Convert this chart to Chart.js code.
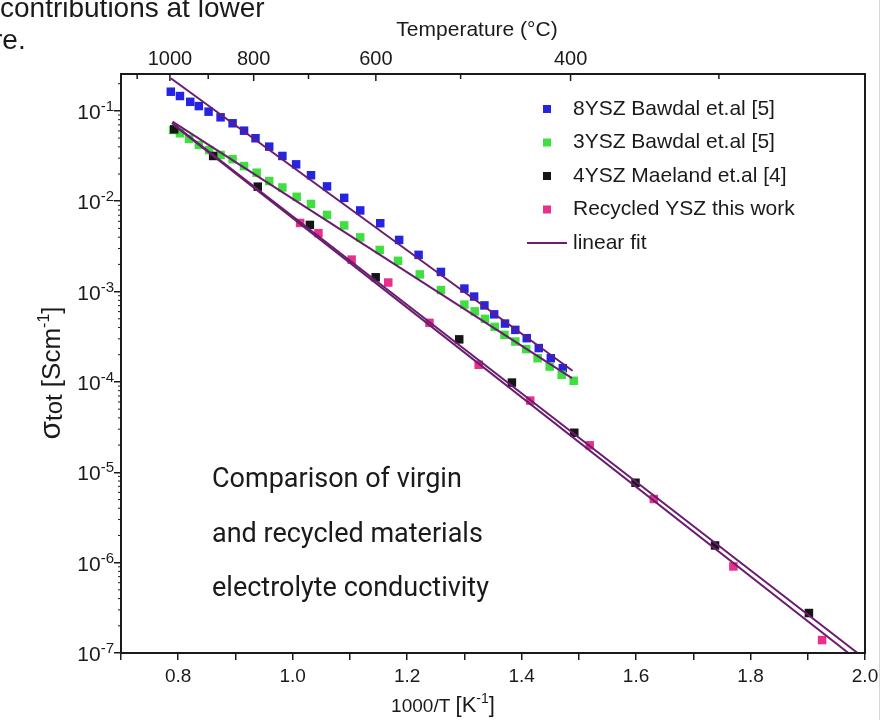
<!DOCTYPE html>
<html>
<head>
<meta charset="utf-8">
<script src="https://cdn.jsdelivr.net/npm/chart.js@4.4.1/dist/chart.umd.min.js"></script>
<style>
html, body { margin: 0; padding: 0; background: #fff; }
#wrap { position: relative; width: 884px; height: 720px; overflow: hidden; }
#edge { position: absolute; left: 879px; top: 0; width: 1px; height: 720px; background: #d6d6d6; }
</style>
</head>
<body>
<div id="wrap">
  <canvas id="c" width="884" height="720"></canvas>
  <div id="edge"></div>
</div>
<script>
// 1000/T [1/K] and total conductivity [S/cm]
var ysz8X = [0.787, 0.803, 0.821, 0.836, 0.853, 0.874, 0.895, 0.915, 0.935, 0.959, 0.982, 1.006, 1.032, 1.060, 1.090,
             1.118, 1.153, 1.186, 1.220, 1.259, 1.300, 1.317, 1.335, 1.352, 1.371, 1.389, 1.409, 1.430, 1.451, 1.472];
var ysz8Y = [0.163, 0.146, 0.126, 0.113, 0.098, 0.0849, 0.0729, 0.0604, 0.0498, 0.0402, 0.0317, 0.0256, 0.0194, 0.0146, 0.0109,
             0.00791, 0.00571, 0.00373, 0.00255, 0.00165, 0.00108, 0.000881, 0.000703, 0.00056, 0.000443, 0.000377, 0.000305, 0.000237, 0.000183, 0.000142];

var ysz3X = [0.791, 0.803, 0.819, 0.836, 0.854, 0.874, 0.895, 0.915, 0.937, 0.959, 0.982, 1.007, 1.032, 1.060, 1.090, 1.118,
             1.152, 1.184, 1.222, 1.259, 1.300, 1.318, 1.336, 1.353, 1.370, 1.389, 1.408, 1.428, 1.449, 1.470, 1.491];
var ysz3Y = [0.0615, 0.0565, 0.0489, 0.0420, 0.0369, 0.0325, 0.0292, 0.0245, 0.0207, 0.0167, 0.0142, 0.0112, 0.00933, 0.00705, 0.00540, 0.00398,
             0.00289, 0.00219, 0.00155, 0.00104, 0.000718, 0.000604, 0.000499, 0.000407, 0.000332, 0.000280, 0.000231, 0.000183, 0.000148, 0.000120, 0.000103];

var ysz4X = [0.793, 0.861, 0.939, 1.030, 1.145, 1.291, 1.383, 1.492, 1.599, 1.738, 1.902];
var ysz4Y = [0.0625, 0.0317, 0.0145, 0.00547, 0.00144, 0.000296, 9.84e-5, 2.74e-5, 7.66e-6, 1.55e-6, 2.77e-7];

var recX = [1.013, 1.045, 1.103, 1.167, 1.239, 1.325, 1.415, 1.519, 1.631, 1.770, 1.925];
var recY = [0.00575, 0.00443, 0.00226, 0.00126, 0.000451, 0.000155, 6.22e-5, 1.99e-5, 5.06e-6, 9.08e-7, 1.39e-7];

// linear fits (end points)
var fit8X = [0.787, 1.489], fit8Y = [0.230, 1.33e-4];
var fit3X = [0.790, 1.488], fit3Y = [0.076, 1.10e-4];
var fit4X = [0.789, 1.987], fit4Y = [0.0735, 1e-7];
var fitRecX = [0.792, 1.971], fitRecY = [0.070, 1e-7];

// axes
var xTickValues = [0.7, 0.8, 0.9, 1.0, 1.1, 1.2, 1.3, 1.4, 1.5, 1.6, 1.7, 1.8, 1.9, 2.0];
var xTickLabels = ['', '0.8', '', '1.0', '', '1.2', '', '1.4', '', '1.6', '', '1.8', '', '2.0'];
var yDecades = [1e-7, 1e-6, 1e-5, 1e-4, 1e-3, 1e-2, 1e-1];
var yExponents = ['-7', '-6', '-5', '-4', '-3', '-2', '-1'];
var tempTicks = [1100, 1000, 900, 800, 700, 600, 500, 400, 300];
var tempLabels = ['', '1000', '', '800', '', '600', '', '400', ''];

var noteLines = ['Comparison of virgin', 'and recycled materials', 'electrolyte conductivity'];

var FONT = 'Liberation Sans, Arial, sans-serif';
var fitColor = '#6a1d6e';

function pts(xs, ys) {
    return xs.map(function (x, i) { return {x: x, y: ys[i]}; });
}

function markers(label, xs, ys, color, order) {
    return {
        label: label, legendText: label, data: pts(xs, ys), showLine: false,
        pointStyle: 'rect', pointRadius: 6, pointHoverRadius: 6, pointBorderWidth: 0,
        backgroundColor: color, borderColor: color, order: order
    };
}

function fitLine(xs, ys, legend) {
    return {
        label: 'fit', legendText: legend, data: pts(xs, ys), showLine: true,
        pointRadius: 0, borderWidth: 2, borderColor: fitColor, backgroundColor: fitColor, order: 0
    };
}

// draw text pieces with different sizes / baseline shifts
function richText(ctx, parts, x, y, align) {
    var total = 0;
    parts.forEach(function (p) { ctx.font = p.size + 'px ' + (p.family || FONT); p.w = ctx.measureText(p.t).width; total += p.w; });
    var cx = align === 'center' ? x - total / 2 : (align === 'right' ? x - total : x);
    parts.forEach(function (p) {
        ctx.font = p.size + 'px ' + (p.family || FONT);
        ctx.fillText(p.t, cx, y + (p.dy || 0));
        cx += p.w;
    });
}

var decor = {
    id: 'decor',
    afterDraw: function (chart) {
        var ctx = chart.ctx, a = chart.chartArea, ys = chart.scales.y, x2 = chart.scales.x2;
        ctx.save();
        ctx.fillStyle = '#1a1a1a';
        ctx.strokeStyle = '#1a1a1a';
        ctx.textAlign = 'left';
        ctx.textBaseline = 'alphabetic';

        // decade labels 10^n with a raised exponent, placed by the log scale
        ys.ticks.forEach(function (t, i) {
            var py = ys.getPixelForValue(t.value);
            richText(ctx, [{t: '10', size: 21}, {t: yExponents[i], size: 15, dy: -8}], a.left - 7, py + 8, 'right');
        });

        // minor ticks on the log axis
        ctx.lineWidth = 1;
        yDecades.forEach(function (d) {
            for (var m = 2; m <= 9; m++) {
                var v = m * d;
                if (v > ys.max) break;
                var py = ys.getPixelForValue(v);
                ctx.beginPath(); ctx.moveTo(a.left - 3, py); ctx.lineTo(a.left, py); ctx.stroke();
            }
        });

        // temperature ticks, pointing into the plot
        ctx.lineWidth = 1.5;
        x2.ticks.forEach(function (t, i) {
            var px = x2.getPixelForValue(t.value);
            var len = tempLabels[i] ? 7 : 5;
            ctx.beginPath(); ctx.moveTo(px, a.top); ctx.lineTo(px, a.top + len); ctx.stroke();
        });

        // frame
        ctx.lineWidth = 2;
        ctx.strokeRect(a.left, a.top, a.right - a.left, a.bottom - a.top);

        // legend
        var lx = 547, tx = 573, ly = 109;
        ctx.textBaseline = 'middle';
        ctx.font = '21px ' + FONT;
        chart.data.datasets.forEach(function (ds) {
            if (!ds.legendText) return;
            if (ds.showLine) {
                ctx.strokeStyle = ds.borderColor; ctx.lineWidth = 2;
                ctx.beginPath(); ctx.moveTo(527, ly); ctx.lineTo(567, ly); ctx.stroke();
            } else {
                ctx.fillStyle = ds.backgroundColor;
                ctx.fillRect(lx - 4, ly - 4, 8, 8);
            }
            ctx.fillStyle = '#1a1a1a';
            ctx.fillText(ds.legendText, tx, ly);
            ly += 33.5;
        });

        // axis titles
        ctx.textBaseline = 'alphabetic';
        ctx.fillStyle = '#1a1a1a';
        ctx.font = '21px ' + FONT;
        ctx.textAlign = 'center';
        ctx.fillText('Temperature (°C)', 477, 36);
        ctx.textAlign = 'left';
        richText(ctx, [
            {t: '1000/T ', size: 19},
            {t: '[K', size: 22},
            {t: '-1', size: 14, dy: -9},
            {t: ']', size: 22}
        ], 443, 712, 'center');

        ctx.save();
        ctx.translate(60, 373);
        ctx.rotate(-Math.PI / 2);
        richText(ctx, [
            {t: 'σ', size: 30},
            {t: 'tot', size: 24, dy: 2},
            {t: ' [Scm', size: 26},
            {t: '-1', size: 16, dy: -11},
            {t: ']', size: 26}
        ], 0, 0, 'center');
        ctx.restore();

        // annotation
        ctx.font = '27px Roboto, ' + FONT;
        noteLines.forEach(function (s, i) { ctx.fillText(s, 212, 487 + i * 54.5); });

        // page text cut by the figure crop
        ctx.font = '28px ' + FONT;
        ctx.fillText('contributions at lower', 0, 17);
        ctx.fillText('re.', -7, 49);
        ctx.restore();
    }
};

var tickFont = {family: FONT, size: 20};

new Chart(document.getElementById('c'), {
    type: 'scatter',
    data: {
        datasets: [
            markers('8YSZ Bawdal et.al [5]', ysz8X, ysz8Y, '#2424e2', 4),
            markers('3YSZ Bawdal et.al [5]', ysz3X, ysz3Y, '#3ee03e', 3),
            markers('4YSZ Maeland et.al [4]', ysz4X, ysz4Y, '#151515', 1),
            markers('Recycled YSZ this work', recX, recY, '#ea2f8c', 2),
            fitLine(fit8X, fit8Y, 'linear fit'),
            fitLine(fit3X, fit3Y, null),
            fitLine(fit4X, fit4Y, null),
            fitLine(fitRecX, fitRecY, null)
        ]
    },
    options: {
        responsive: false,
        animation: false,
        devicePixelRatio: 1,
        layout: {padding: {left: 0, right: 19, top: 0, bottom: 0}},
        plugins: {legend: {display: false}, tooltip: {enabled: false}},
        scales: {
            x: {
                type: 'linear', position: 'bottom', min: 0.7, max: 2.0,
                afterBuildTicks: function (s) { s.ticks = xTickValues.map(function (v) { return {value: v}; }); },
                afterFit: function (s) { s.height = 67; },
                ticks: {
                    autoSkip: false, maxRotation: 0, padding: 5, color: '#1a1a1a', font: {family: FONT, size: 19},
                    callback: function (v, i) { return xTickLabels[i]; }
                },
                grid: {drawOnChartArea: false, drawTicks: true, tickLength: 7, color: '#1a1a1a', lineWidth: 1.5},
                border: {display: false}
            },
            x2: {
                type: 'linear', position: 'top', min: 0.7, max: 2.0,
                afterBuildTicks: function (s) {
                    s.ticks = tempTicks.map(function (T) { return {value: 1000 / (T + 273.15)}; });
                },
                afterFit: function (s) { s.height = 74; },
                ticks: {
                    autoSkip: false, maxRotation: 0, padding: 3, color: '#1a1a1a', font: tickFont,
                    callback: function (v, i) { return tempLabels[i]; }
                },
                grid: {drawOnChartArea: false, drawTicks: false},
                border: {display: false}
            },
            y: {
                type: 'logarithmic', min: 1e-7, max: 0.256,
                afterBuildTicks: function (s) { s.ticks = yDecades.map(function (v) { return {value: v, major: true}; }); },
                afterFit: function (s) { s.width = 121; },
                ticks: {display: false},
                grid: {drawOnChartArea: false, drawTicks: true, tickLength: 7, color: '#1a1a1a', lineWidth: 1.5},
                border: {display: false}
            }
        }
    },
    plugins: [decor]
});
</script>
</body>
</html>
